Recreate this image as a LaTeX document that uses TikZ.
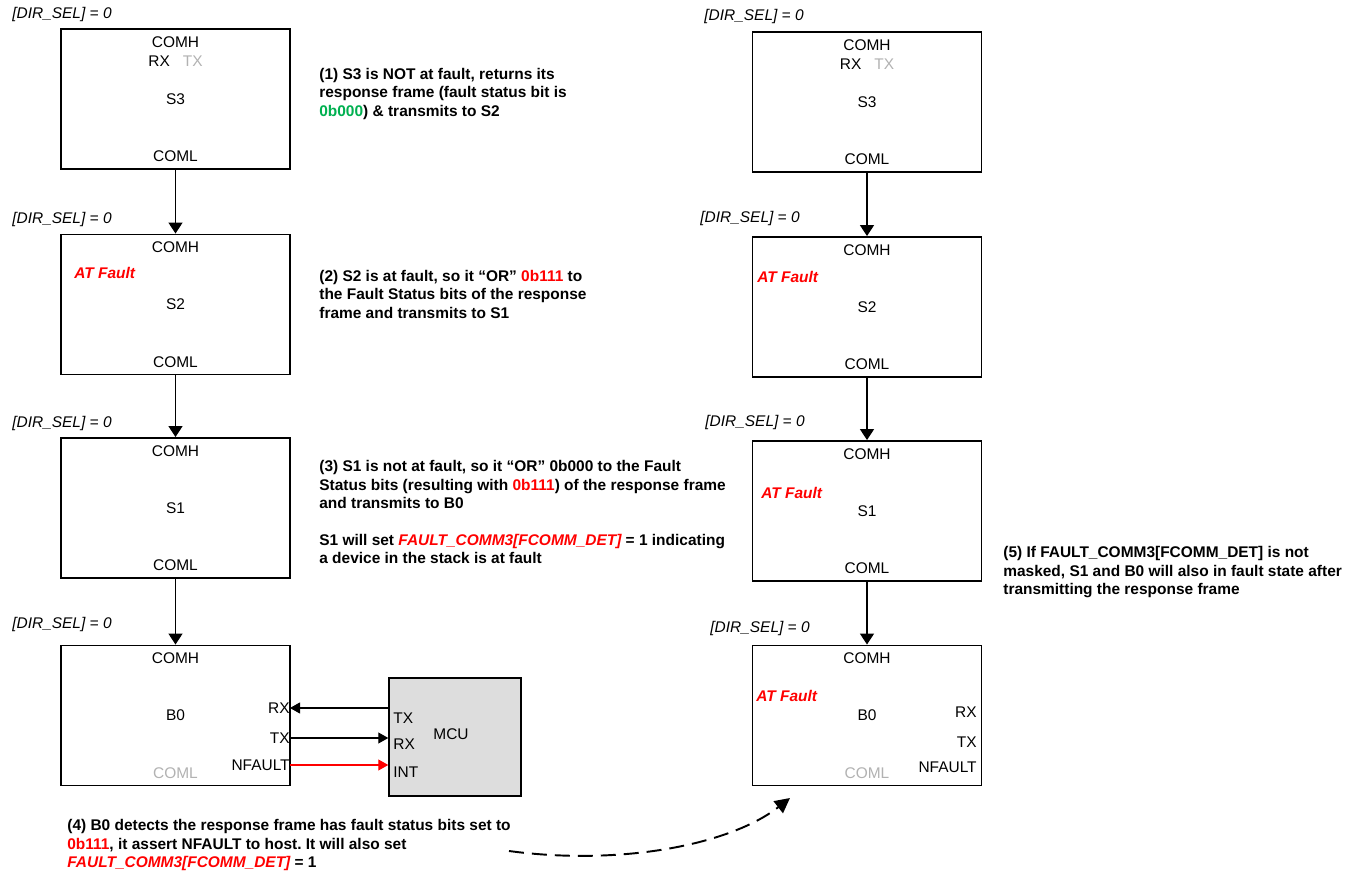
\documentclass[tikz,border=0pt]{standalone}
\usepackage{fontspec}
\setmainfont{Liberation Sans}
\usepackage{xcolor}
\usepackage{tikz}
\usetikzlibrary{arrows.meta,positioning,calc}
\frenchspacing
\definecolor{faultred}{RGB}{255,0,0}
\definecolor{okgreen}{RGB}{0,176,80}
\definecolor{pingray}{RGB}{178,178,178}
\definecolor{mcufill}{RGB}{221,221,221}
\newcommand{\devfont}{\fontsize{8.8}{10.5}\selectfont}
\tikzset{
  devbox/.style={draw, line width=1.1pt, fill=white, inner sep=0pt,
                 minimum width=4.58cm, minimum height=2.8cm},
  portlbl/.style={inner sep=0pt, font=\devfont},
  dirsel/.style={anchor=west, inner sep=0pt, font=\devfont\itshape},
  atfault/.style={anchor=west, inner sep=0pt, text=faultred,
                  font=\devfont\bfseries\itshape},
  notetext/.style={anchor=north west, inner sep=0pt, align=left,
                   font=\devfont\bfseries},
  flowarrow/.style={line width=0.85pt, -{Triangle[width=0.28cm,length=0.22cm]}},
  sigarrow/.style={line width=0.6pt, -{Triangle[width=0.22cm,length=0.2cm]}},
  mcubox/.style={draw, line width=0.85pt, fill=mcufill, inner sep=0pt,
                 minimum width=2.64cm, minimum height=2.36cm},
}
\newcommand{\stackdev}[3]{%
  \node[devbox] (#1) at (0,0) {};
  \node[portlbl] (#1H) at ([yshift=-0.28cm]#1.north) {COMH};
  \node[portlbl] (#1N) at (#1.center) {#2};
  \node[portlbl, text=#3] (#1L) at ([yshift=0.27cm]#1.south) {COML};
}

\begin{document}
\begin{tikzpicture}[x=0.02cm, y=-0.02cm, >=Stealth]
    \useasboundingbox (0,0) rectangle (1356,874);
    % left stack
    \begin{scope}[shift={(175.5,99)}]
      \stackdev{lS3}{S3}{black}
    \end{scope}
    \begin{scope}[shift={(175.5,304.5)}]
      \stackdev{lS2}{S2}{black}
    \end{scope}
    \begin{scope}[shift={(175.5,508)}]
      \stackdev{lS1}{S1}{black}
    \end{scope}
    \begin{scope}[shift={(175.5,715.5)}]
      \stackdev{lB0}{B0}{pingray}
    \end{scope}
    \node[portlbl] (lS3rt) at ([yshift=-0.66cm]lS3.north) {RX\hspace{0.26cm}\textcolor{pingray}{TX}};
    \node[atfault] (lS2f) at (74,273) {AT Fault};
    \node[dirsel] (lS3d) at (12,15) {[DIR\_SEL] = 0};
    \node[dirsel] (lS2d) at (12,220) {[DIR\_SEL] = 0};
    \node[dirsel] (lS1d) at (12,424) {[DIR\_SEL] = 0};
    \node[dirsel] (lB0d) at (12,625) {[DIR\_SEL] = 0};
    \draw[flowarrow] (lS3.south) -- (lS2.north);
    \draw[flowarrow] (lS2.south) -- (lS1.north);
    \draw[flowarrow] (lS1.south) -- (lB0.north);

    % B0 <-> MCU
    \node[portlbl, anchor=east] (lB0rx) at (290,708) {RX};
    \node[portlbl, anchor=east] (lB0tx) at (290,738) {TX};
    \node[portlbl, anchor=east] (lB0nf) at (290,765) {NFAULT};
    \node[mcubox] (mcu) at (455,737) {};
    \node[portlbl, anchor=west] (mcuTX) at (393,718) {TX};
    \node[portlbl, anchor=west] (mcuRX) at (393,744) {RX};
    \node[portlbl, anchor=west] (mcuINT) at (393,772) {INT};
    \node[portlbl] (mcuN) at (451,734) {MCU};
    \draw[sigarrow] (lB0rx.east -| mcu.west) -- (lB0rx.east);
    \draw[sigarrow] (lB0tx.east) -- (lB0tx.east -| mcu.west);
    \draw[sigarrow, faultred] (lB0nf.east) -- (lB0nf.east -| mcu.west);

    % right stack
    \begin{scope}[shift={(867,102)}]
      \stackdev{rS3}{S3}{black}
    \end{scope}
    \begin{scope}[shift={(867,307)}]
      \stackdev{rS2}{S2}{black}
    \end{scope}
    \begin{scope}[shift={(867,511)}]
      \stackdev{rS1}{S1}{black}
    \end{scope}
    \begin{scope}[shift={(867,715.5)}]
      \stackdev{rB0}{B0}{pingray}
    \end{scope}
    \node[portlbl] (rS3rt) at ([yshift=-0.66cm]rS3.north) {RX\hspace{0.26cm}\textcolor{pingray}{TX}};
    \node[atfault] (rS2f) at (757,277) {AT Fault};
    \node[atfault] (rS1f) at (761,493) {AT Fault};
    \node[atfault] (rB0f) at (756,696) {AT Fault};
    \node[portlbl, anchor=east] (rB0rx) at (977,712) {RX};
    \node[portlbl, anchor=east] (rB0tx) at (977,742) {TX};
    \node[portlbl, anchor=east] (rB0nf) at (977,767) {NFAULT};
    \node[dirsel] (rS3d) at (704,17) {[DIR\_SEL] = 0};
    \node[dirsel] (rS2d) at (700,219) {[DIR\_SEL] = 0};
    \node[dirsel] (rS1d) at (705,423) {[DIR\_SEL] = 0};
    \node[dirsel] (rB0d) at (710,629) {[DIR\_SEL] = 0};
    \draw[flowarrow] (rS3.south) -- (rS2.north);
    \draw[flowarrow] (rS2.south) -- (rS1.north);
    \draw[flowarrow] (rS1.south) -- (rB0.north);

    % steps
    \node[notetext] (step1) at (319,68) {(1) S3 is NOT at fault, returns its\\
      response frame (fault status bit is\\
      \textcolor{okgreen}{0b000}) \& transmits to S2};
    \node[notetext] (step2) at (319,270) {(2) S2 is at fault, so it “OR” \textcolor{faultred}{0b111} to\\
      the Fault Status bits of the response\\
      frame and transmits to S1};
    \node[notetext] (step3) at (319,460) {(3) S1 is not at fault, so it “OR” 0b000 to the Fault\\
      Status bits (resulting with \textcolor{faultred}{0b111}) of the response frame\\
      and transmits to B0\\[10.5pt]
      S1 will set \textcolor{faultred}{\itshape FAULT\_COMM3[FCOMM\_DET]} = 1 indicating\\
      a device in the stack is at fault};
    \node[notetext] (step4) at (67,819) {(4) B0 detects the response frame has fault status bits set to\\
      \textcolor{faultred}{0b111}, it assert NFAULT to host. It will also set\\
      \textcolor{faultred}{\itshape FAULT\_COMM3[FCOMM\_DET]} = 1};
    \node[notetext] (step5) at (1003,546) {(5) If FAULT\_COMM3[FCOMM\_DET] is not\\
      masked, S1 and B0 will also in fault state after\\
      transmitting the response frame};

    % hand-over
    \coordinate (hopA) at (509,851);
    \coordinate (hopB) at (790,798);
    \draw[line width=1.1pt, dash pattern=on 0.3cm off 0.16cm,
          -{Triangle[width=0.3cm,length=0.3cm]}]
      (hopA) .. controls (620,866) and (730,845) .. (hopB);
\end{tikzpicture}
\end{document}
